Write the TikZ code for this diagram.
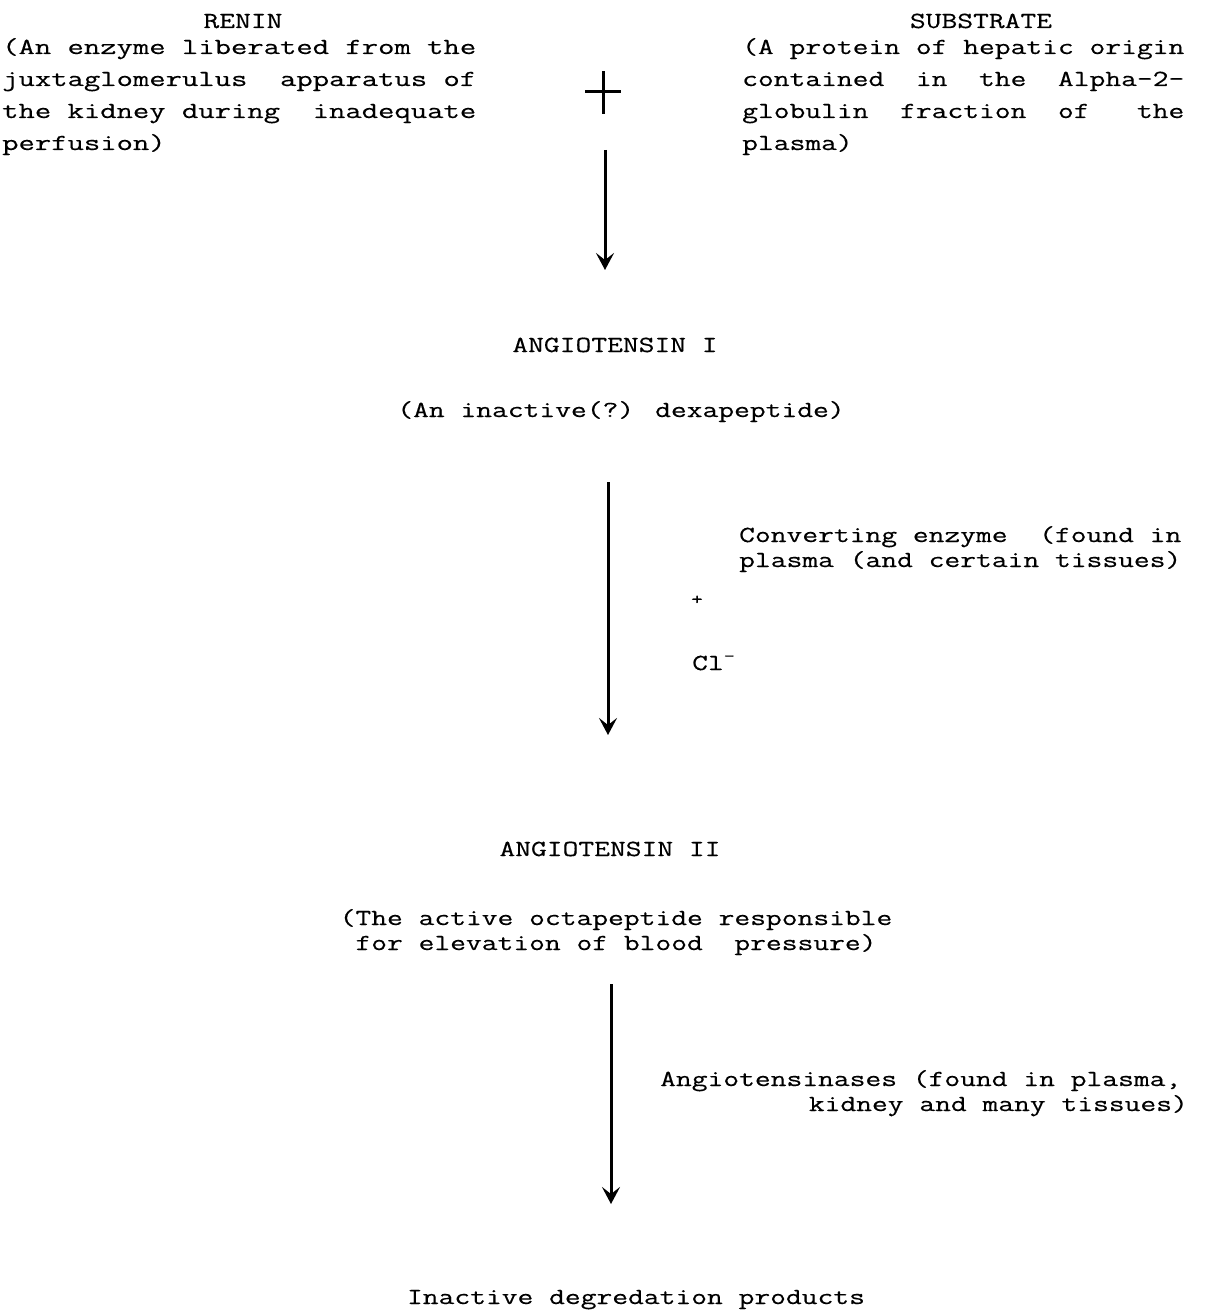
\documentclass[tikz,border=0pt]{standalone}
\usepackage{fontspec}
\newfontfamily\tw[FakeStretch=1.333,FakeBold=0.4]{Latin Modern Mono}
\newfontfamily\twl[FakeStretch=1.38,FakeBold=0.4]{Latin Modern Mono}
\usetikzlibrary{arrows.meta}
\begin{document}
\begin{tikzpicture}[x=1pt,y=-1pt,
  txt/.style={inner sep=0pt, font=\tw\fontsize{23}{26}\selectfont},
  txtl/.style={inner sep=0pt, font=\twl\fontsize{23}{26}\selectfont},
  small/.style={inner sep=0pt, font=\tw\fontsize{17}{18}\selectfont},
  arr/.style={line width=3pt, -{Stealth[length=17pt,width=18pt,inset=7pt]}},
  crossline/.style={line width=3pt}]
\useasboundingbox (0,0) rectangle (1205,1316);
\fill[white] (0,0) rectangle (1205,1316);

% top left block
\node[txt,anchor=base] (renin) at (243,28) {RENIN};
\node[txtl,anchor=base west] (rA) at (2,54) {(An enzyme liberated from the};
\node[txtl,anchor=base west] (rB) at (2,86) {juxtaglomerulus~~apparatus of};
\node[txtl,anchor=base west] (rC) at (2,118) {the kidney during~~inadequate};
\node[txtl,anchor=base west] (rD) at (2,150) {perfusion)};

% top right block
\node[txt,anchor=base] (subst) at (981,28) {SUBSTRATE};
\node[txt,anchor=base west] (sA) at (742,54) {(A protein of hepatic origin};
\node[txt,anchor=base west] (sB) at (742,86) {contained~~in~~the~~Alpha-2-};
\node[txt,anchor=base west] (sC) at (742,118) {globulin~~fraction~~of~~~the};
\node[txt,anchor=base west] (sD) at (742,150) {plasma)};

% plus sign
\coordinate (plus) at (603,92);
\draw[crossline] ([xshift=-18]plus) -- ([xshift=18]plus);
\draw[crossline] ([yshift=-22]plus) -- ([yshift=21]plus);

% arrow 1
\coordinate (a1s) at (605,150);
\coordinate (a1e) at (605,270);
\draw[arr] (a1s) -- (a1e);

% Angiotensin I
\node[txt,anchor=base] (ang1) at (615,352) {ANGIOTENSIN I};
\node[txt,anchor=base] (ang1d) at (621,417) {(An inactive(?) dexapeptide)};

% arrow 2
\coordinate (a2s) at (608,482);
\coordinate (a2e) at (608,735);
\draw[arr] (a2s) -- (a2e);

\node[txt,anchor=base west] (convA) at (739,542) {Converting enzyme~~(found in};
\node[txt,anchor=base west] (convB) at (739,567) {plasma (and certain tissues)};
\node[small,anchor=center] (plus2) at (697,600) {+};
\node[txt,anchor=base west] (cl) at (692,670) {Cl\textsuperscript{-}};

% Angiotensin II
\node[txt,anchor=base] (ang2) at (610,856) {ANGIOTENSIN II};
\node[txt,anchor=base] (ang2a) at (616,925) {(The active octapeptide responsible};
\node[txt,anchor=base] (ang2b) at (616,950) {for elevation of blood~~pressure)};

% arrow 3
\coordinate (a3s) at (611,984);
\coordinate (a3e) at (611,1204);
\draw[arr] (a3s) -- (a3e);

\node[txt,anchor=base west] (angiA) at (660,1086) {Angiotensinases (found in plasma,};
\node[txt,anchor=base east] (angiB) at (1188,1111) {kidney and many tissues)};

\node[txt,anchor=base] (inact) at (636,1304) {Inactive degredation products};
\end{tikzpicture}
\end{document}
